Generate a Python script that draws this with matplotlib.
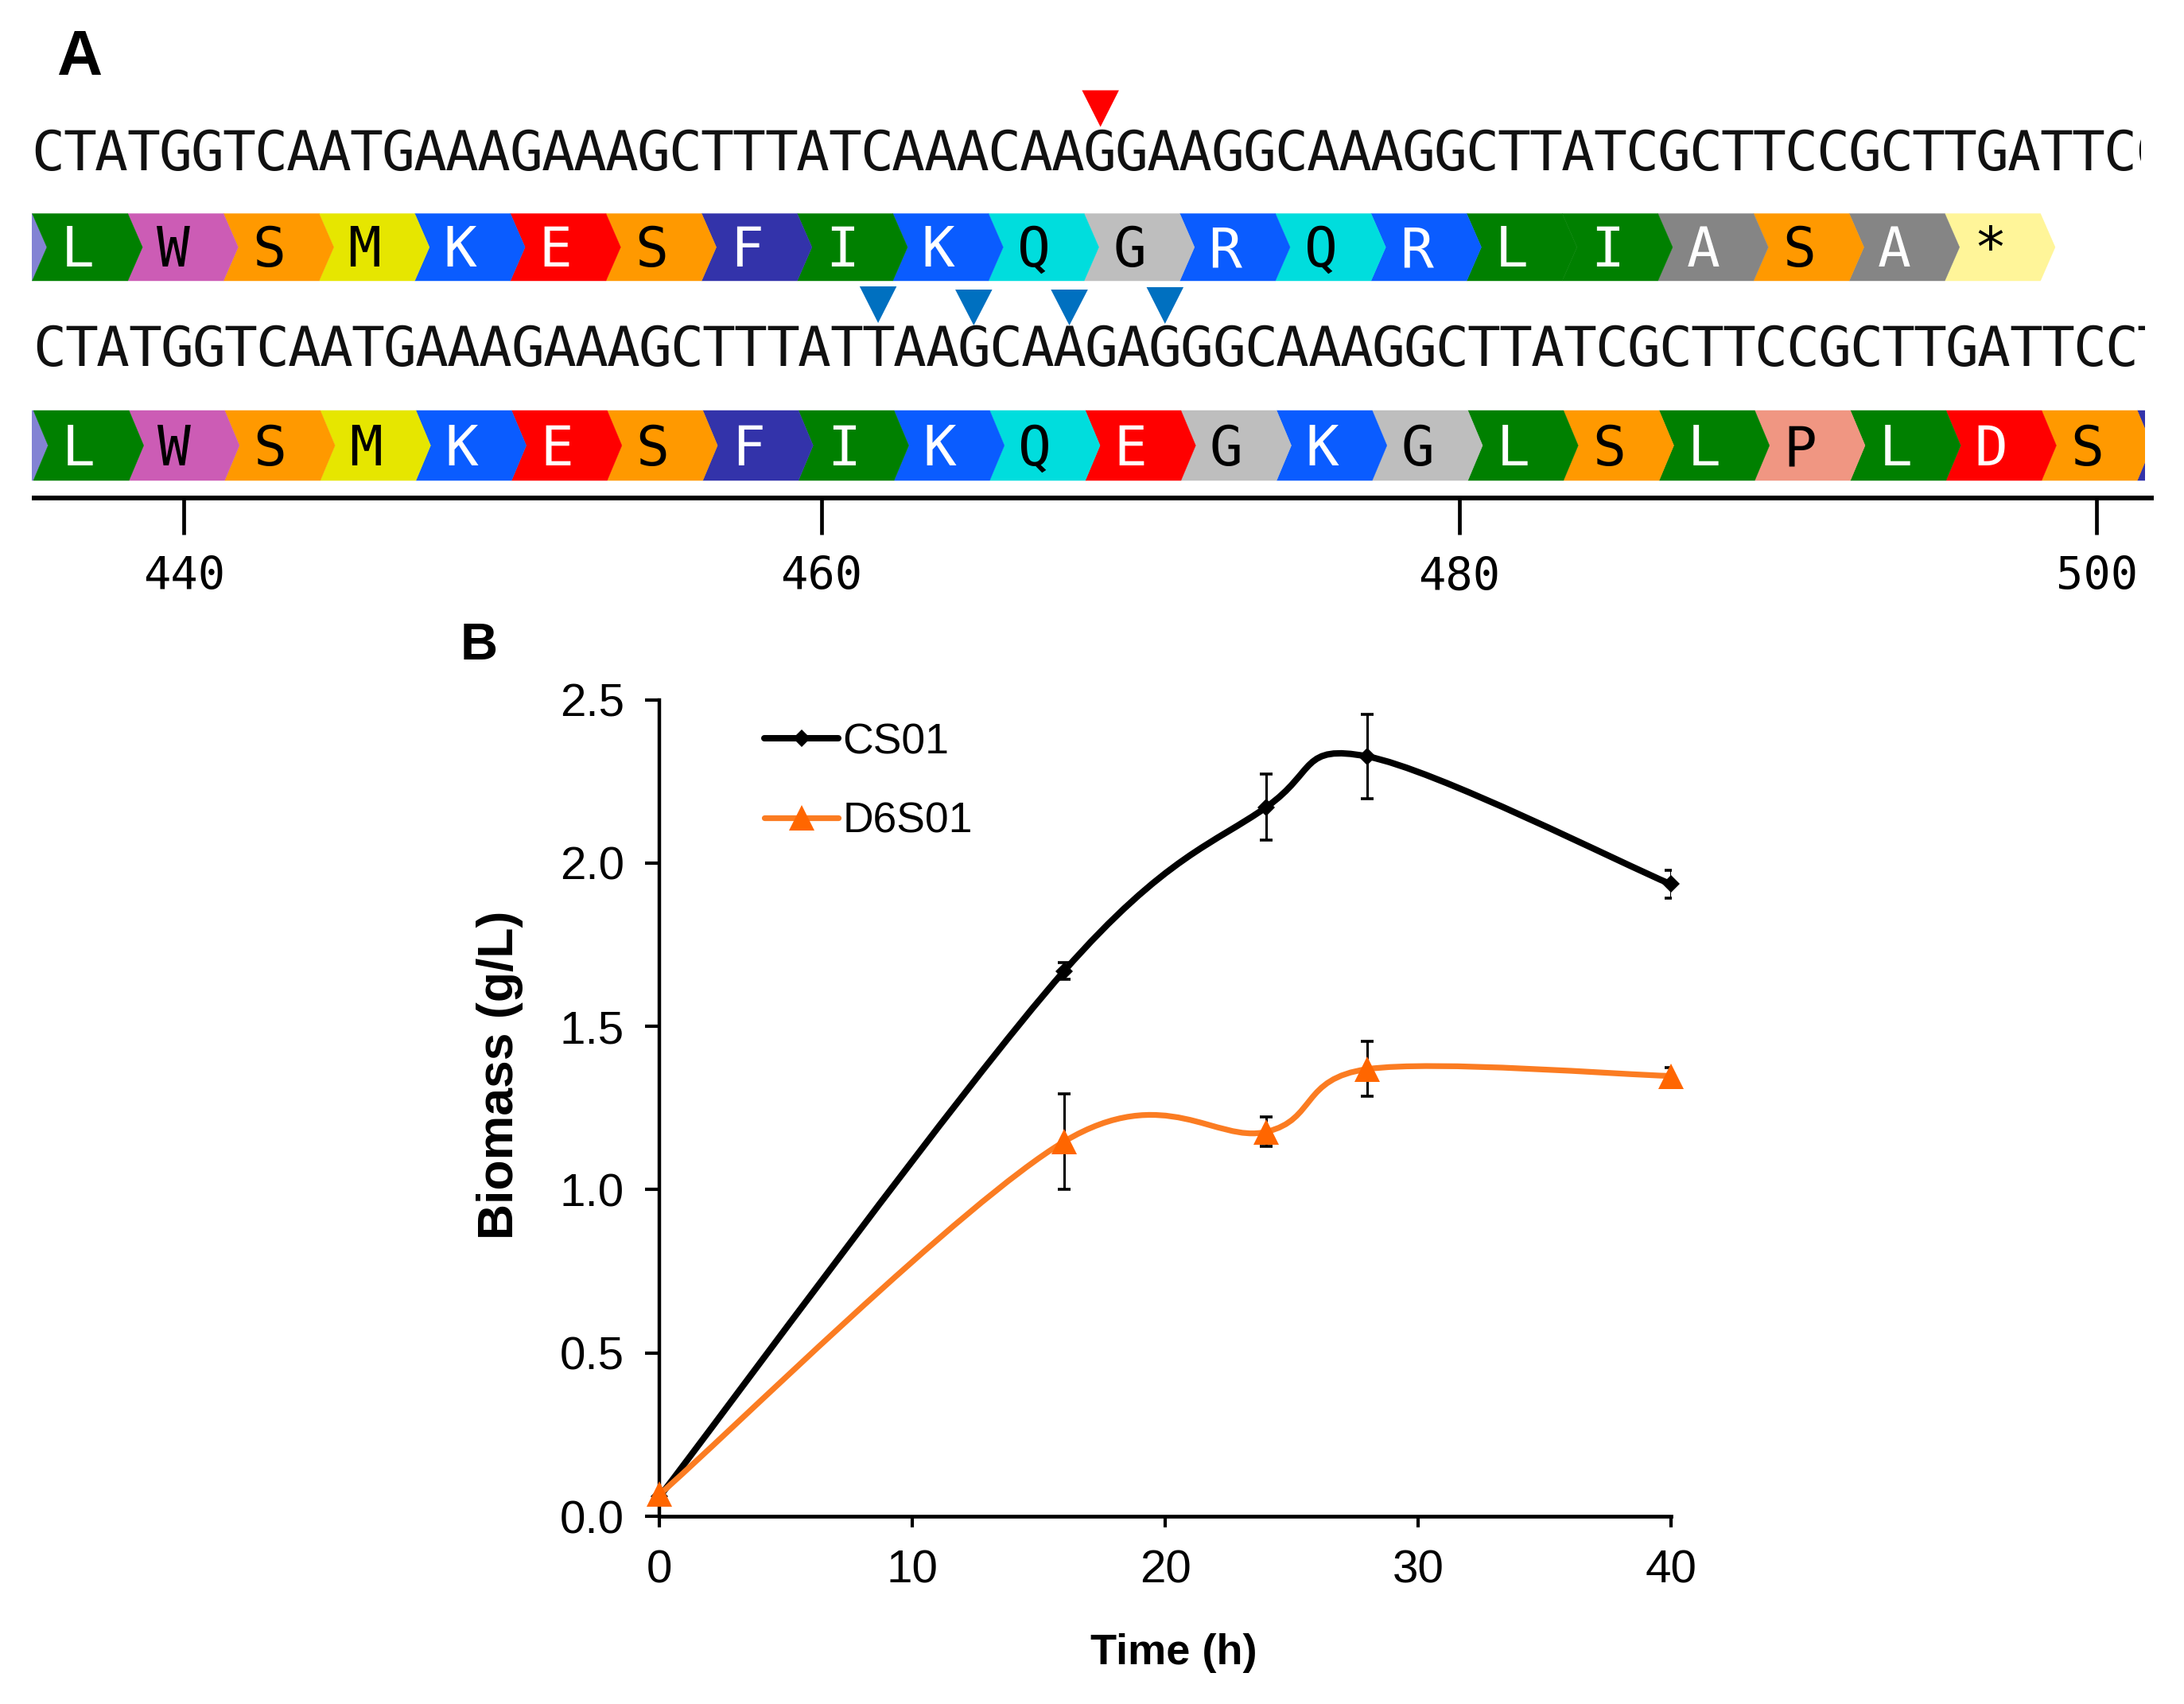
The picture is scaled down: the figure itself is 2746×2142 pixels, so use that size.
import matplotlib
matplotlib.use("Agg")
import matplotlib.pyplot as plt
import numpy as np
from matplotlib.patches import Polygon, PathPatch
from matplotlib.path import Path
from matplotlib.transforms import Bbox, TransformedBbox

W, H = 2746, 2142
DPI = 100
SANS = "Liberation Sans"
MONO = "DejaVu Sans Mono"

# ---------- data: panel A ----------
nt_wild = "CTATGGTCAATGAAAGAAAGCTTTATCAAACAAGGAAGGCAAAGGCTTATCGCTTCCGCTTGATTCC"
nt_mut = "CTATGGTCAATGAAAGAAAGCTTTATTAAGCAAGAGGGCAAAGGCTTATCGCTTCCGCTTGATTCCTT"
aa_wild = list("LWSMKESFIKQGRQRLIASA*")
aa_mut = list("LWSMKESFIKQEGKGLSLPLDS")
aa_colors = {
    "L": "#008000", "I": "#008000", "W": "#CC5CB5", "S": "#FF9900", "M": "#E6E600",
    "K": "#0A5CFF", "R": "#0A5CFF", "E": "#FF0000", "D": "#FF0000", "F": "#3333AA",
    "Q": "#00DDDD", "G": "#BEBEBE", "A": "#858585", "*": "#FFF599", "P": "#F09682",
}
white_text = set("LIKREDFA")
stub_left_color = "#8383D4"
stub_right_color = "#3333AA"
pos_ticks = [440, 460, 480, 500]
red_mark_nt = [33]
blue_mark_nt = [26, 29, 32, 35]

# ---------- data: panel B ----------
time_h = [0, 16, 24, 28, 40]
cs01 = [0.06, 1.669, 2.171, 2.326, 1.935]
cs01_err = [0.0, 0.025, 0.101, 0.128, 0.042]
d6s01 = [0.067, 1.147, 1.177, 1.369, 1.348]
d6s01_err = [0.0, 0.146, 0.045, 0.084, 0.025]
x_ticks = [0, 10, 20, 30, 40]
y_ticks = [0.0, 0.5, 1.0, 1.5, 2.0, 2.5]
y_labels = ["0.0", "0.5", "1.0", "1.5", "2.0", "2.5"]

BLACK = "#000000"
ORANGE_LINE = "#FB7C22"
ORANGE_MARK = "#FF6600"


def ax_px(fig, left, top, right, bottom):
    return fig.add_axes([left / W, 1 - bottom / H, (right - left) / W, (bottom - top) / H])


fig = plt.figure(figsize=(W / DPI, H / DPI), dpi=DPI, facecolor="white")

# ---------- panel A ----------
a = ax_px(fig, 40, 0, 2708, 626)
PX_NT = 40.08
x0 = 440 + (40 - 231.5) / PX_NT
a.set_xlim(x0, x0 + 2668 / PX_NT)
a.set_ylim(626, 0)
a.patch.set_alpha(0)
for s in ["top", "left", "right"]:
    a.spines[s].set_visible(False)
a.spines["bottom"].set_linewidth(4.3)
a.spines["bottom"].set_capstyle("butt")
a.set_yticks([])
a.set_xticks(pos_ticks)
a.set_xticklabels([str(v) for v in pos_ticks], family=MONO, fontsize=41)
a.tick_params(axis="x", length=33, width=3.4, pad=19, color="black")


def px2nt(p):
    return 440 + (p - 231.5) / PX_NT


def clipbox(right_px):
    return TransformedBbox(Bbox([[px2nt(40), 0], [px2nt(right_px), 626]]), a.transData)


def draw_seq(seq, start_px, baseline, right_px):
    for i, c in enumerate(seq):
        t = a.text(px2nt(start_px) + i, baseline, c, family=MONO, fontsize=50,
                   ha="center", va="baseline", color="#111111")
        t.set_clip_on(True)
        t.set_clip_box(clipbox(right_px))


def chevron(x, top, bot, color, box):
    tip = 0.46
    p = Polygon([(x, top), (x + 3, top), (x + 3 + tip, (top + bot) / 2), (x + 3, bot), (x, bot),
                 (x + tip, (top + bot) / 2)], closed=True, facecolor=color, edgecolor=color,
                linewidth=0.3, zorder=2)
    a.add_patch(p)
    p.set_clip_on(True)
    p.set_clip_box(box)


def draw_bar(aa, start_px, top, bot, baseline, right_px, stub_r=None):
    box = clipbox(right_px)
    s = px2nt(start_px)
    chevron(s - 3, top, bot, stub_left_color, box)
    if stub_r:
        chevron(s + 3 * len(aa), top, bot, stub_r, box)
    for i in range(len(aa) - 1, -1, -1):
        chevron(s + 3 * i, top, bot, aa_colors[aa[i]], box)
    for i, r in enumerate(aa):
        a.text(s + 3 * i + 1.42, baseline, r, family=MONO, fontsize=50, ha="center",
               va="baseline", color="white" if r in white_text else "black", zorder=3)


draw_seq(nt_wild, 60, 214, 2692)
draw_bar(aa_wild, 40.5, 268.5, 353, 335, 2700)
draw_seq(nt_mut, 62, 460, 2697)
draw_bar(aa_mut, 42, 516, 604, 585, 2697, stub_r=stub_right_color)

for i in red_mark_nt:
    c = px2nt(61) + i
    a.add_patch(Polygon([(c - 0.58, 113.5), (c + 0.58, 113.5), (c, 159.5)], closed=True,
                        facecolor="#FF0000", edgecolor="none", zorder=4))
for i, (t, b_) in zip(blue_mark_nt, [(360, 406), (364, 409), (364, 409), (361, 407)]):
    c = px2nt(62) + i
    a.add_patch(Polygon([(c - 0.58, t), (c + 0.58, t), (c, b_)], closed=True,
                        facecolor="#0070C0", edgecolor="none", zorder=4))

# ---------- panel B ----------
b = ax_px(fig, 829.3, 879.5, 2100.8, 1906)
b.set_xlim(0, 40)
b.set_ylim(0, 2.5)
b.patch.set_alpha(0)
for s in ["top", "right"]:
    b.spines[s].set_visible(False)
b.spines["left"].set_linewidth(3.2)
b.spines["bottom"].set_linewidth(3.4)
b.set_xticks(x_ticks)
b.set_yticks(y_ticks)
b.set_yticklabels(y_labels)
b.tick_params(axis="x", direction="out", length=10, width=3.0, labelsize=42, pad=20)
b.tick_params(axis="y", direction="out", length=13, width=3.0, labelsize=42, pad=19)
for lab in b.get_xticklabels() + b.get_yticklabels():
    lab.set_family(SANS)


def smooth_path(x, y):
    """Excel-style smoothed line: cubic Bezier through the points."""
    p = np.column_stack([x, y]).astype(float)
    n = len(p)
    verts = [p[0]]
    codes = [Path.MOVETO]
    for i in range(n - 1):
        prev = p[max(i - 1, 0)]
        nxt = p[min(i + 2, n - 1)]
        verts += [p[i] + (p[i + 1] - prev) / 6, p[i + 1] - (nxt - p[i]) / 6, p[i + 1]]
        codes += [Path.CURVE4] * 3
    return Path(verts, codes)


for vals, errs, lc, mc, mk, ms, lw, z in [
    (cs01, cs01_err, BLACK, BLACK, "D", 11.5, 5.8, 3),
    (d6s01, d6s01_err, ORANGE_LINE, ORANGE_MARK, "^", 22.5, 5.2, 5),
]:
    b.errorbar(time_h[1:], vals[1:], yerr=errs[1:], fmt="none", ecolor="black",
               elinewidth=2.2, capsize=6, capthick=2.6, zorder=z)
    patch = PathPatch(smooth_path(time_h, vals), fill=False, edgecolor=lc, linewidth=lw,
                      capstyle="round", zorder=z + 0.2)
    patch.set_clip_on(False)
    b.add_patch(patch)
    b.plot(time_h, vals, ls="none", marker=mk, ms=ms, color=mc, mec=mc, mew=0,
           zorder=z + 0.4, clip_on=False)

h1, = b.plot([], [], color=BLACK, lw=5.8, marker="D", ms=11.5, mew=0, label="CS01",
             solid_capstyle="round")
h2, = b.plot([], [], color=ORANGE_LINE, lw=5.2, marker="^", ms=22.5, mfc=ORANGE_MARK,
             mew=0, label="D6S01", solid_capstyle="round")
leg = b.legend(handles=[h1, h2], loc="upper left", bbox_to_anchor=(961 / W, 1 - 908 / H),
               bbox_transform=fig.transFigure, frameon=False, borderpad=0, borderaxespad=0,
               handlelength=1.74, handletextpad=0.1, labelspacing=0.93,
               prop={"family": SANS, "size": 38.5}, numpoints=1)

fig.text(629 / W, 1 - 1351 / H, "Biomass (g/L)", family=SANS, weight="bold", fontsize=45,
         rotation=90, ha="center", va="center")
fig.text(1476 / W, 1 - 2078 / H, "Time (h)", family=SANS, weight="bold", fontsize=39,
         ha="center", va="center")
fig.text(71 / W, 1 - 94 / H, "A", family=SANS, weight="bold", fontsize=57, ha="left",
         va="baseline")
fig.text(579 / W, 1 - 829 / H, "B", family=SANS, weight="bold", fontsize=47, ha="left",
         va="baseline")

fig.savefig("out.png", dpi=DPI, facecolor="white")
